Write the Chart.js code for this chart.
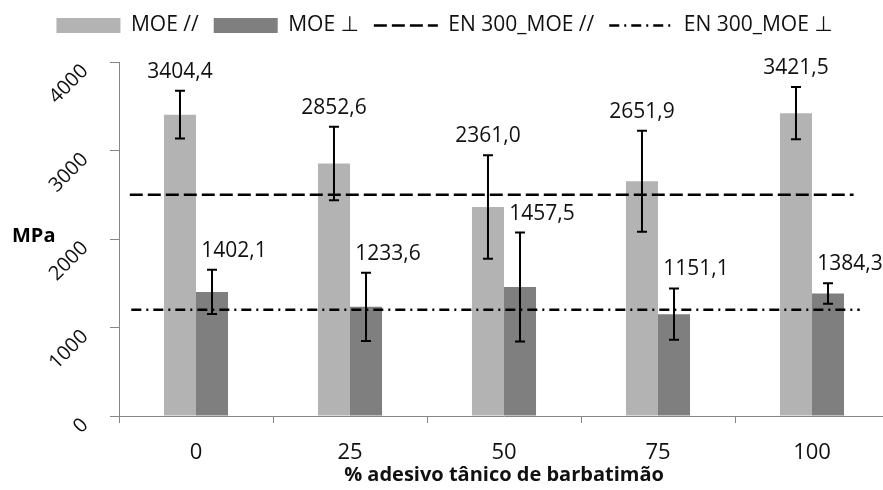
<!DOCTYPE html>
<html lang="pt">
<head>
    <meta charset="UTF-8">
    <title>MOE - adesivo tânico de barbatimão</title>
    <script src="https://cdn.jsdelivr.net/npm/chart.js"></script>
    <style>
        body {
            margin: 0;
            overflow: hidden;
            background: #fff;
        }
        #wrap {
            position: relative;
            width: 900px;
            height: 490px;
        }
    </style>
</head>
<body>
    <div id="wrap"><canvas id="moeChart"></canvas></div>

    <script>
        // dados
        const categories = ['0', '25', '50', '75', '100'];
        const moeParallel = [3404.4, 2852.6, 2361.0, 2651.9, 3421.5];
        const moePerp = [1402.1, 1233.6, 1457.5, 1151.1, 1384.3];
        const sdParallel = [270, 415, 585, 570, 295];
        const sdPerp = [250, 385, 615, 290, 115];
        const en300Parallel = 2500;
        const en300Perp = 1200;
        const yTicks = [0, 1000, 2000, 3000, 4000];
        // extensão das linhas de referência, em unidades de categoria
        const dashSpan = [-0.43, 4.27];
        const dashDotSpan = [-0.42, 4.31];

        const FONT = "'Open Sans', 'DejaVu Sans', sans-serif";
        const AXIS_GRAY = '#868686';
        const DASH = [13, 5];
        const DASH_DOT = [10, 5, 2, 5];

        const fmt = v => v.toFixed(1).replace('.', ',');

        // linhas EN 300, barras de erro, rótulos de valor e título "MPa"
        const extrasPlugin = {
            id: 'extras',
            afterDatasetsDraw(chart) {
                const ctx = chart.ctx;
                const xs = chart.scales.x;
                const ys = chart.scales.y;
                ctx.save();

                // linhas de referência EN 300
                [[en300Parallel, dashSpan, DASH], [en300Perp, dashDotSpan, DASH_DOT]].forEach(([v, span, dash]) => {
                    const y = ys.getPixelForValue(v);
                    ctx.strokeStyle = '#000';
                    ctx.lineWidth = 2.5;
                    ctx.setLineDash(dash);
                    ctx.beginPath();
                    ctx.moveTo(xs.getPixelForValue(span[0]), y);
                    ctx.lineTo(xs.getPixelForValue(span[1]), y);
                    ctx.stroke();
                });
                ctx.setLineDash([]);

                const groups = [
                    { ds: 0, vals: moeParallel, sd: sdParallel, dx: 0 },
                    { ds: 1, vals: moePerp, sd: sdPerp, dx: 22 }
                ];
                groups.forEach(g => {
                    const meta = chart.getDatasetMeta(g.ds);
                    meta.data.forEach((bar, j) => {
                        const yTop = ys.getPixelForValue(g.vals[j] + g.sd[j]);
                        const yBot = ys.getPixelForValue(g.vals[j] - g.sd[j]);
                        ctx.strokeStyle = '#000';
                        ctx.lineWidth = 2;
                        ctx.beginPath();
                        ctx.moveTo(bar.x, yTop);
                        ctx.lineTo(bar.x, yBot);
                        ctx.moveTo(bar.x - 5, yTop);
                        ctx.lineTo(bar.x + 5, yTop);
                        ctx.moveTo(bar.x - 5, yBot);
                        ctx.lineTo(bar.x + 5, yBot);
                        ctx.stroke();

                        ctx.fillStyle = '#111';
                        ctx.font = '21px ' + FONT;
                        ctx.textAlign = 'center';
                        ctx.textBaseline = 'middle';
                        ctx.fillText(fmt(g.vals[j]), bar.x + g.dx, yTop - 19);
                    });
                });

                ctx.font = 'bold 20px ' + FONT;
                ctx.fillStyle = '#000';
                ctx.textAlign = 'left';
                ctx.textBaseline = 'middle';
                ctx.fillText('MPa', 12, 236);
                ctx.restore();
            }
        };

        const ctx = document.getElementById('moeChart').getContext('2d');
        const moeChart = new Chart(ctx, {
            type: 'bar',
            data: {
                labels: categories,
                datasets: [
                    {
                        label: 'MOE //',
                        data: moeParallel,
                        backgroundColor: '#b3b3b3'
                    },
                    {
                        label: 'MOE \u22A5',
                        data: moePerp,
                        backgroundColor: '#7f7f7f'
                    }
                ]
            },
            options: {
                responsive: true,
                maintainAspectRatio: false,
                animation: false,
                layout: { padding: { top: 0, right: 11, bottom: 0, left: 0 } },
                datasets: {
                    bar: { categoryPercentage: 0.416, barPercentage: 1.0 }
                },
                plugins: {
                    tooltip: { enabled: false },
                    legend: {
                        position: 'top',
                        labels: {
                            font: { family: FONT, size: 21 },
                            color: '#111',
                            usePointStyle: true,
                            pointStyleWidth: 64,
                            boxHeight: 15,
                            padding: 15,
                            generateLabels(chart) {
                                const items = Chart.defaults.plugins.legend.labels.generateLabels(chart);
                                items.forEach(it => {
                                    it.pointStyle = 'rect';
                                    it.lineWidth = 0;
                                    it.fillStyle = chart.data.datasets[it.datasetIndex].backgroundColor;
                                });
                                [['EN 300_MOE //', DASH], ['EN 300_MOE \u22A5', DASH_DOT]].forEach(([text, dash]) => {
                                    items.push({
                                        text: text,
                                        fontColor: '#111',
                                        pointStyle: 'line',
                                        lineDash: dash,
                                        lineWidth: 2.5,
                                        strokeStyle: '#000',
                                        fillStyle: '#000',
                                        hidden: false
                                    });
                                });
                                return items;
                            }
                        }
                    }
                },
                scales: {
                    x: {
                        type: 'category',
                        grid: { drawOnChartArea: false, tickLength: 7, color: AXIS_GRAY },
                        border: { color: AXIS_GRAY },
                        ticks: { font: { family: FONT, size: 22 }, color: '#111', padding: 17 },
                        title: {
                            display: true,
                            text: '% adesivo tânico de barbatimão',
                            font: { family: FONT, size: 20, weight: 'bold' },
                            color: '#111',
                            padding: { top: 0, bottom: 3 }
                        },
                        afterFit: s => { s.height = 74; }
                    },
                    // eixo vazio só para reservar espaço sob a legenda
                    xTop: {
                        type: 'linear',
                        position: 'top',
                        grid: { display: false },
                        border: { display: false },
                        ticks: { display: false },
                        afterFit: s => { s.height = 16; }
                    },
                    y: {
                        min: 0,
                        max: 4000,
                        grid: { drawOnChartArea: false, tickLength: 9, color: AXIS_GRAY },
                        border: { color: AXIS_GRAY },
                        ticks: {
                            font: { family: FONT, size: 20 },
                            color: '#111',
                            minRotation: 45,
                            maxRotation: 45,
                            padding: 25,
                            labelOffset: 6,
                            callback: v => String(v)
                        },
                        afterBuildTicks: s => { s.ticks = yTicks.map(v => ({ value: v })); },
                        afterFit: s => { s.width = 119; }
                    }
                }
            },
            plugins: [extrasPlugin]
        });
    </script>
</body>
</html>
